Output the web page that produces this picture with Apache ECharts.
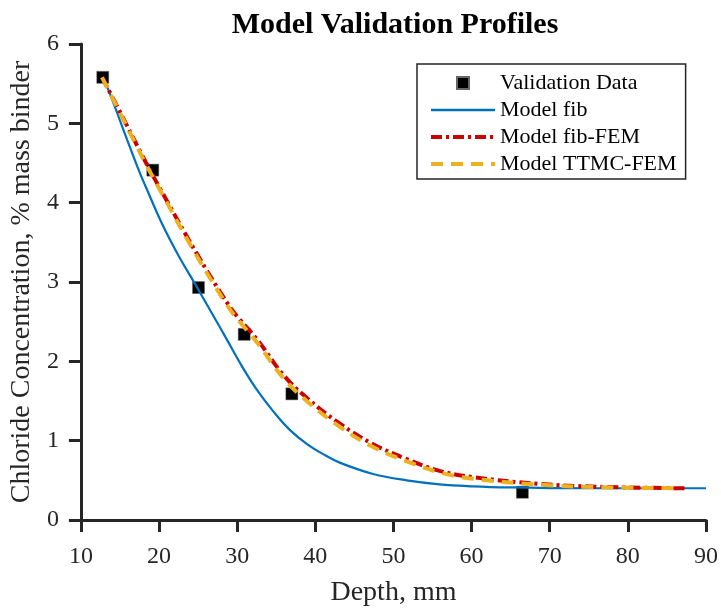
<!DOCTYPE html>
<html>
<head>
<meta charset="utf-8">
<script src="https://cdn.jsdelivr.net/npm/echarts@6/dist/echarts.min.js"></script>
<style>html,body{margin:0;padding:0;background:#fff}#c{width:721px;height:612px}</style>
</head>
<body>
<div id="c"></div>
<script>
const titleText = 'Model Validation Profiles';
const xName = 'Depth, mm';
const yName = 'Chloride Concentration, % mass binder';
const seriesNames = ['Validation Data', 'Model fib', 'Model fib-FEM', 'Model TTMC-FEM'];

const validationData = [[12.8,5.58],[19.2,4.41],[25.05,2.93],[30.9,2.34],[37.0,1.59],[66.5,0.35]];

const modelFib = [[12.7,5.58],[13.2,5.50],[16.2,4.72],[17.4,4.41],[18.3,4.20],[20.4,3.73],[22.5,3.33],[24.7,2.96],[26.8,2.60],[28.7,2.27],[30.6,1.94],[32.6,1.63],[34.7,1.36],[36.8,1.13],[38.9,0.96],[41.0,0.83],[43.2,0.72],[47.4,0.58],[51.7,0.50],[55.9,0.45],[60.2,0.425],[65.0,0.41],[70.0,0.403],[80.0,0.40],[90.0,0.40]];

const modelFibFEM = [[12.7,5.58],[14.5,5.24],[18.3,4.51],[20.4,4.13],[24.7,3.38],[28.9,2.71],[30.4,2.52],[32.6,2.27],[35.9,1.83],[38.9,1.54],[43.2,1.21],[47.4,0.956],[51.7,0.768],[55.9,0.62],[60.2,0.54],[68.7,0.455],[75.9,0.42],[87.3,0.40]];

const modelTTMC = [[12.7,5.58],[14.5,5.23],[18.3,4.49],[20.4,4.11],[24.7,3.35],[28.9,2.68],[30.4,2.49],[32.6,2.23],[35.9,1.79],[38.9,1.50],[43.2,1.17],[47.4,0.92],[51.7,0.74],[55.9,0.60],[60.2,0.52],[68.7,0.445],[75.9,0.415],[86.5,0.40]];

const font = 'Liberation Serif';
const axisColor = '#262626';
const blue = '#0072BD', red = '#CC0000', orange = '#EDB120';

const chart = echarts.init(document.getElementById('c'), null, {renderer: 'canvas'});
chart.setOption({
  backgroundColor: '#ffffff',
  animation: false,
  title: {
    text: titleText, left: 390, top: 5, textAlign: 'center',
    textStyle: {fontFamily: font, fontWeight: 'bold', fontSize: 30, color: '#000'}
  },
  legend: {
    left: 417, top: 64, orient: 'vertical',
    padding: [8, 9, 4, 12], itemGap: 5, itemWidth: 64, itemHeight: 12,
    borderColor: '#262626', borderWidth: 1.5, backgroundColor: '#fff',
    textStyle: {fontFamily: font, fontSize: 22, color: '#000'},
    data: [
      {name: seriesNames[0], icon: 'path://M0,0L1,0L1,1L0,1Z', itemStyle: {color: '#000', opacity: 1}},
      {name: seriesNames[1], itemStyle: {opacity: 0}, lineStyle: {color: blue, width: 2.5}},
      {name: seriesNames[2], itemStyle: {opacity: 0}, lineStyle: {color: red, width: 4, type: [11, 4, 3, 4]}},
      {name: seriesNames[3], itemStyle: {opacity: 0}, lineStyle: {color: orange, width: 4, type: [12, 8]}}
    ]
  },
  grid: {left: 80, right: 14, top: 44, bottom: 89, containLabel: false},
  xAxis: {
    type: 'value', min: 10, max: 90, interval: 10,
    name: xName, nameLocation: 'middle', nameGap: 59,
    nameTextStyle: {fontFamily: font, fontSize: 28, color: axisColor},
    axisLine: {lineStyle: {color: axisColor, width: 3}},
    axisTick: {show: true, inside: false, length: 12, lineStyle: {color: axisColor, width: 3}},
    axisLabel: {fontFamily: font, fontSize: 24, color: axisColor, margin: 25},
    splitLine: {show: false}
  },
  yAxis: {
    type: 'value', min: 0, max: 6, interval: 1,
    name: yName, nameLocation: 'middle', nameGap: 42,
    nameTextStyle: {fontFamily: font, fontSize: 28, color: axisColor},
    axisLine: {lineStyle: {color: axisColor, width: 3}},
    axisTick: {show: true, inside: false, length: 12, lineStyle: {color: axisColor, width: 3}},
    axisLabel: {fontFamily: font, fontSize: 24, color: axisColor, margin: 22},
    splitLine: {show: false}
  },
  series: [
    {name: seriesNames[0], type: 'scatter', data: validationData, symbol: 'rect', symbolSize: 12,
     itemStyle: {color: '#000', opacity: 1, borderColor: '#666', borderWidth: 0.5}, z: 2},
    {name: seriesNames[1], type: 'line', data: modelFib, showSymbol: false, symbol: 'none',
     smooth: 0.4, lineStyle: {color: blue, width: 2.2}, itemStyle: {color: blue}, z: 3},
    {name: seriesNames[2], type: 'line', data: modelFibFEM, showSymbol: false, symbol: 'none',
     smooth: 0.4, lineStyle: {color: red, width: 4, type: [11, 4, 3, 4]}, itemStyle: {color: red}, z: 4},
    {name: seriesNames[3], type: 'line', data: modelTTMC, showSymbol: false, symbol: 'none',
     smooth: 0.4, lineStyle: {color: orange, width: 4, type: [12, 8]}, itemStyle: {color: orange}, z: 5}
  ]
});
</script>
</body>
</html>
